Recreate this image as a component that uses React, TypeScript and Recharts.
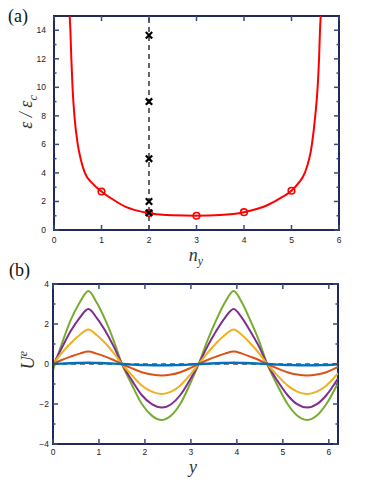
import React from 'react';
import {
  ComposedChart,
  LineChart,
  Line,
  Scatter,
  XAxis,
  YAxis,
  ReferenceLine,
  ReferenceArea,
} from 'recharts';

// panel (a): energy vs n_y
const curveN = [0.33, 0.345, 0.365, 0.39, 0.43, 0.5, 0.56, 0.65, 0.8, 1, 1.25, 1.5, 1.75, 2, 2.5, 3, 3.5, 4, 4.5, 4.8, 5, 5.15, 5.28, 5.43, 5.5, 5.55, 5.58, 5.6, 5.615];
const curveE = [15, 14, 12, 10, 8, 6, 5, 4, 3.3, 2.7, 2.12, 1.64, 1.36, 1.18, 1.03, 1.0, 1.05, 1.25, 1.75, 2.3, 2.75, 3.3, 4, 6, 8, 10, 12, 14, 15];
const markerN = [1, 2, 3, 4, 5];
const markerE = [2.7, 1.2, 1.0, 1.25, 2.75];
const crossN = [2, 2, 2, 2, 2];
const crossE = [1.2, 2.0, 5.0, 9.0, 13.65];
const nTicks = [0, 1, 2, 3, 4, 5, 6];
const eTicks = [0, 1, 2, 3, 4, 5, 6, 7, 8, 9, 10, 11, 12, 13, 14];

// panel (b): U^e vs y
const uY = [0, 0.19, 0.385, 0.58, 0.77, 0.95, 1.14, 1.32, 1.5, 1.72, 1.93, 2.15, 2.37, 2.57, 2.77, 2.97, 3.17, 3.36, 3.55, 3.74, 3.93, 4.11, 4.29, 4.48, 4.66, 4.88, 5.1, 5.31, 5.53, 5.74, 5.95, 6.2];
const uGreen = [-0.3, 1.0, 2.19, 3.07, 3.65, 3.07, 2.19, 1.17, 0, -1.06, -1.99, -2.58, -2.8, -2.58, -1.99, -1.06, 0, 1.17, 2.19, 3.07, 3.65, 3.07, 2.19, 1.17, 0, -1.06, -1.99, -2.58, -2.8, -2.58, -1.99, -0.95];
const uPurple = [-0.05, 0.8, 1.65, 2.31, 2.75, 2.31, 1.65, 0.88, 0, -0.83, -1.55, -2.01, -2.18, -2.01, -1.55, -0.83, 0, 0.88, 1.65, 2.31, 2.75, 2.31, 1.65, 0.88, 0, -0.83, -1.55, -2.01, -2.18, -2.01, -1.55, -0.72];
const uYellow = [0, 0.55, 1.04, 1.45, 1.73, 1.45, 1.04, 0.55, 0, -0.57, -1.07, -1.38, -1.5, -1.38, -1.07, -0.57, 0, 0.55, 1.04, 1.45, 1.73, 1.45, 1.04, 0.55, 0, -0.57, -1.07, -1.38, -1.5, -1.38, -1.07, -0.46];
const uOrange = [0, 0.2, 0.37, 0.52, 0.62, 0.52, 0.37, 0.2, 0, -0.22, -0.41, -0.53, -0.58, -0.53, -0.41, -0.22, 0, 0.2, 0.37, 0.52, 0.62, 0.52, 0.37, 0.2, 0, -0.22, -0.41, -0.53, -0.58, -0.53, -0.41, -0.15];
const uBlue = [0, 0.02, 0.04, 0.05, 0.06, 0.05, 0.04, 0.02, 0, -0.03, -0.05, -0.06, -0.07, -0.06, -0.05, -0.03, 0, 0.02, 0.04, 0.05, 0.06, 0.05, 0.04, 0.02, 0, -0.03, -0.05, -0.06, -0.07, -0.06, -0.05, -0.02];
const yTicks = [0, 1, 2, 3, 4, 5, 6];
const uTicks = [-4, -3, -2, -1, 0, 1, 2, 3, 4];

const curveData = curveN.map((n, i) => ({ n, e: curveE[i] }));
const markerData = markerN.map((n, i) => ({ n, e: markerE[i] }));
const crossData = crossN.map((n, i) => ({ n, e: crossE[i] }));
const uData = uY.map((y, i) => ({
  y,
  green: uGreen[i],
  purple: uPurple[i],
  yellow: uYellow[i],
  orange: uOrange[i],
  blue: uBlue[i],
}));

const frameColor = '#1f2a5a';
const tickFont = {
  fontFamily: '"Liberation Sans", Arial, sans-serif',
  fontSize: 8.5,
  fill: '#222',
};
const fmt = (v: number) => (v < 0 ? `\u2212${Math.abs(v)}` : `${v}`);
const tl = { stroke: '#3a4a7a', strokeWidth: 1.5 };

// ticks point inward, mirrored on the opposite side of the box (span = plot size)
function xTick(isMajor: (v: number) => boolean, gap: number, span: number) {
  return (props: any) => {
    const { x, y, payload } = props;
    const v = payload.value as number;
    const len = isMajor(v) ? 5 : 2.5;
    return (
      <g>
        <line x1={x} y1={y} x2={x} y2={y - len} {...tl} />
        <line x1={x} y1={y - span} x2={x} y2={y - span + len} {...tl} />
        {isMajor(v) && (
          <text x={x} y={y + gap} textAnchor="middle" {...tickFont}>{fmt(v)}</text>
        )}
      </g>
    );
  };
}

function yTick(isMajor: (v: number) => boolean, gap: number, span: number) {
  return (props: any) => {
    const { x, y, payload } = props;
    const v = payload.value as number;
    const len = isMajor(v) ? 5 : 2.5;
    return (
      <g>
        <line x1={x} y1={y} x2={x + len} y2={y} {...tl} />
        <line x1={x + span} y1={y} x2={x + span - len} y2={y} {...tl} />
        {isMajor(v) && (
          <text x={x - gap} y={y + 3} textAnchor="end" {...tickFont}>{fmt(v)}</text>
        )}
      </g>
    );
  };
}

const allMajor = () => true;
const evenMajor = (v: number) => v % 2 === 0;

const Cross = (props: any) => {
  const { cx, cy } = props;
  const s = 3.2;
  return (
    <path
      d={`M${cx - s},${cy - s}L${cx + s},${cy + s}M${cx - s},${cy + s}L${cx + s},${cy - s}`}
      stroke="#000"
      strokeWidth={2.2}
      fill="none"
    />
  );
};

const Ring = (props: any) => {
  const { cx, cy } = props;
  return <circle cx={cx} cy={cy} r={3.3} fill="none" stroke="#ff0000" strokeWidth={1.6} />;
};

const serif = '"Liberation Serif", "DejaVu Serif", serif';

const centered = (cx: number, cy: number, rotate = false): React.CSSProperties => ({
  position: 'absolute',
  left: cx,
  top: cy,
  transform: `translate(-50%, -50%)${rotate ? ' rotate(-90deg)' : ''}`,
  whiteSpace: 'nowrap',
  fontFamily: serif,
  fontStyle: 'italic',
  color: '#333',
  lineHeight: 0.8,
});

const common = {
  tickSize: 0,
  tickMargin: 0,
  tickLine: false,
  interval: 0 as const,
  axisLine: { stroke: frameColor, strokeWidth: 2 },
};

export default function App() {
  return (
    <div style={{ position: 'absolute', left: 0, top: 0, width: 374, height: 484, background: '#fff' }}>
      <div style={{ position: 'absolute', left: 0, top: 0 }}>
        <ComposedChart width={374} height={250} margin={{ top: 16, right: 35, bottom: 0, left: 24 }}>
          <XAxis {...common} allowDataOverflow xAxisId="b" dataKey="n" type="number" domain={[0, 6]} ticks={nTicks} height={20}
            tick={xTick(allMajor, 13, 214)} />
          <YAxis {...common} allowDataOverflow yAxisId="l" type="number" domain={[0, 15]} ticks={eTicks} width={30}
            tick={yTick(evenMajor, 8, 285)} />
          <ReferenceArea xAxisId="b" yAxisId="l" x1={0} x2={6} y1={0} y2={15} fill="none" stroke={frameColor} strokeWidth={2} />
          <ReferenceLine xAxisId="b" yAxisId="l" x={2} stroke="#000" strokeWidth={1.2} strokeDasharray="5 4" />
          <Line
            xAxisId="b"
            yAxisId="l"
            data={curveData}
            dataKey="e"
            type="monotone"
            stroke="#ff0000"
            strokeWidth={2}
            dot={false}
            isAnimationActive={false}
          />
          <Scatter xAxisId="b" yAxisId="l" data={markerData} dataKey="e" shape={Ring} isAnimationActive={false} />
          <Scatter xAxisId="b" yAxisId="l" data={crossData} dataKey="e" shape={Cross} isAnimationActive={false} />
        </ComposedChart>
      </div>

      <div style={{ position: 'absolute', left: 0, top: 250 }}>
        <LineChart width={374} height={234} data={uData} margin={{ top: 34, right: 36, bottom: 20, left: 23 }}>
          <XAxis {...common} allowDataOverflow xAxisId="b" dataKey="y" type="number" domain={[0, 6.2]} ticks={yTicks} height={20}
            tick={xTick(allMajor, 11, 160)} />
          <YAxis {...common} allowDataOverflow yAxisId="l" type="number" domain={[-4, 4]} ticks={uTicks} width={30}
            tick={yTick(evenMajor, 4, 285)} />
          <ReferenceArea xAxisId="b" yAxisId="l" x1={0} x2={6.2} y1={-4} y2={4} fill="none" stroke={frameColor} strokeWidth={2} />
          <ReferenceLine xAxisId="b" yAxisId="l" y={0} stroke="#000" strokeWidth={1.2} strokeDasharray="5 4" />
          <Line xAxisId="b" yAxisId="l" dataKey="green" type="monotone" stroke="#77ac30" strokeWidth={2} dot={false} isAnimationActive={false} />
          <Line xAxisId="b" yAxisId="l" dataKey="purple" type="monotone" stroke="#7e2f8e" strokeWidth={2} dot={false} isAnimationActive={false} />
          <Line xAxisId="b" yAxisId="l" dataKey="yellow" type="monotone" stroke="#edb120" strokeWidth={2} dot={false} isAnimationActive={false} />
          <Line xAxisId="b" yAxisId="l" dataKey="orange" type="monotone" stroke="#d95319" strokeWidth={2} dot={false} isAnimationActive={false} />
          <Line xAxisId="b" yAxisId="l" dataKey="blue" type="monotone" stroke="#0072bd" strokeWidth={2.4} dot={false} isAnimationActive={false} />
        </LineChart>
      </div>

      <div style={{ position: 'absolute', left: 8, top: 7, fontFamily: serif, fontSize: 18, lineHeight: 1, color: '#111' }}>(a)</div>
      <div style={{ position: 'absolute', left: 9, top: 261, fontFamily: serif, fontSize: 18, lineHeight: 1, color: '#111' }}>(b)</div>

      <div style={{ ...centered(29, 112, true), fontSize: 18 }}>
        ε / ε<sub style={{ fontSize: 12 }}>c</sub>
      </div>
      <div style={{ ...centered(196, 255), fontSize: 18 }}>
        n<sub style={{ fontSize: 12, lineHeight: 0 }}>y</sub>
      </div>
      <div style={{ ...centered(28, 360, true), fontSize: 18 }}>
        U<sup style={{ fontSize: 12, lineHeight: 0 }}>e</sup>
      </div>
      <div style={{ ...centered(193, 467), fontSize: 18 }}>y</div>
    </div>
  );
}
